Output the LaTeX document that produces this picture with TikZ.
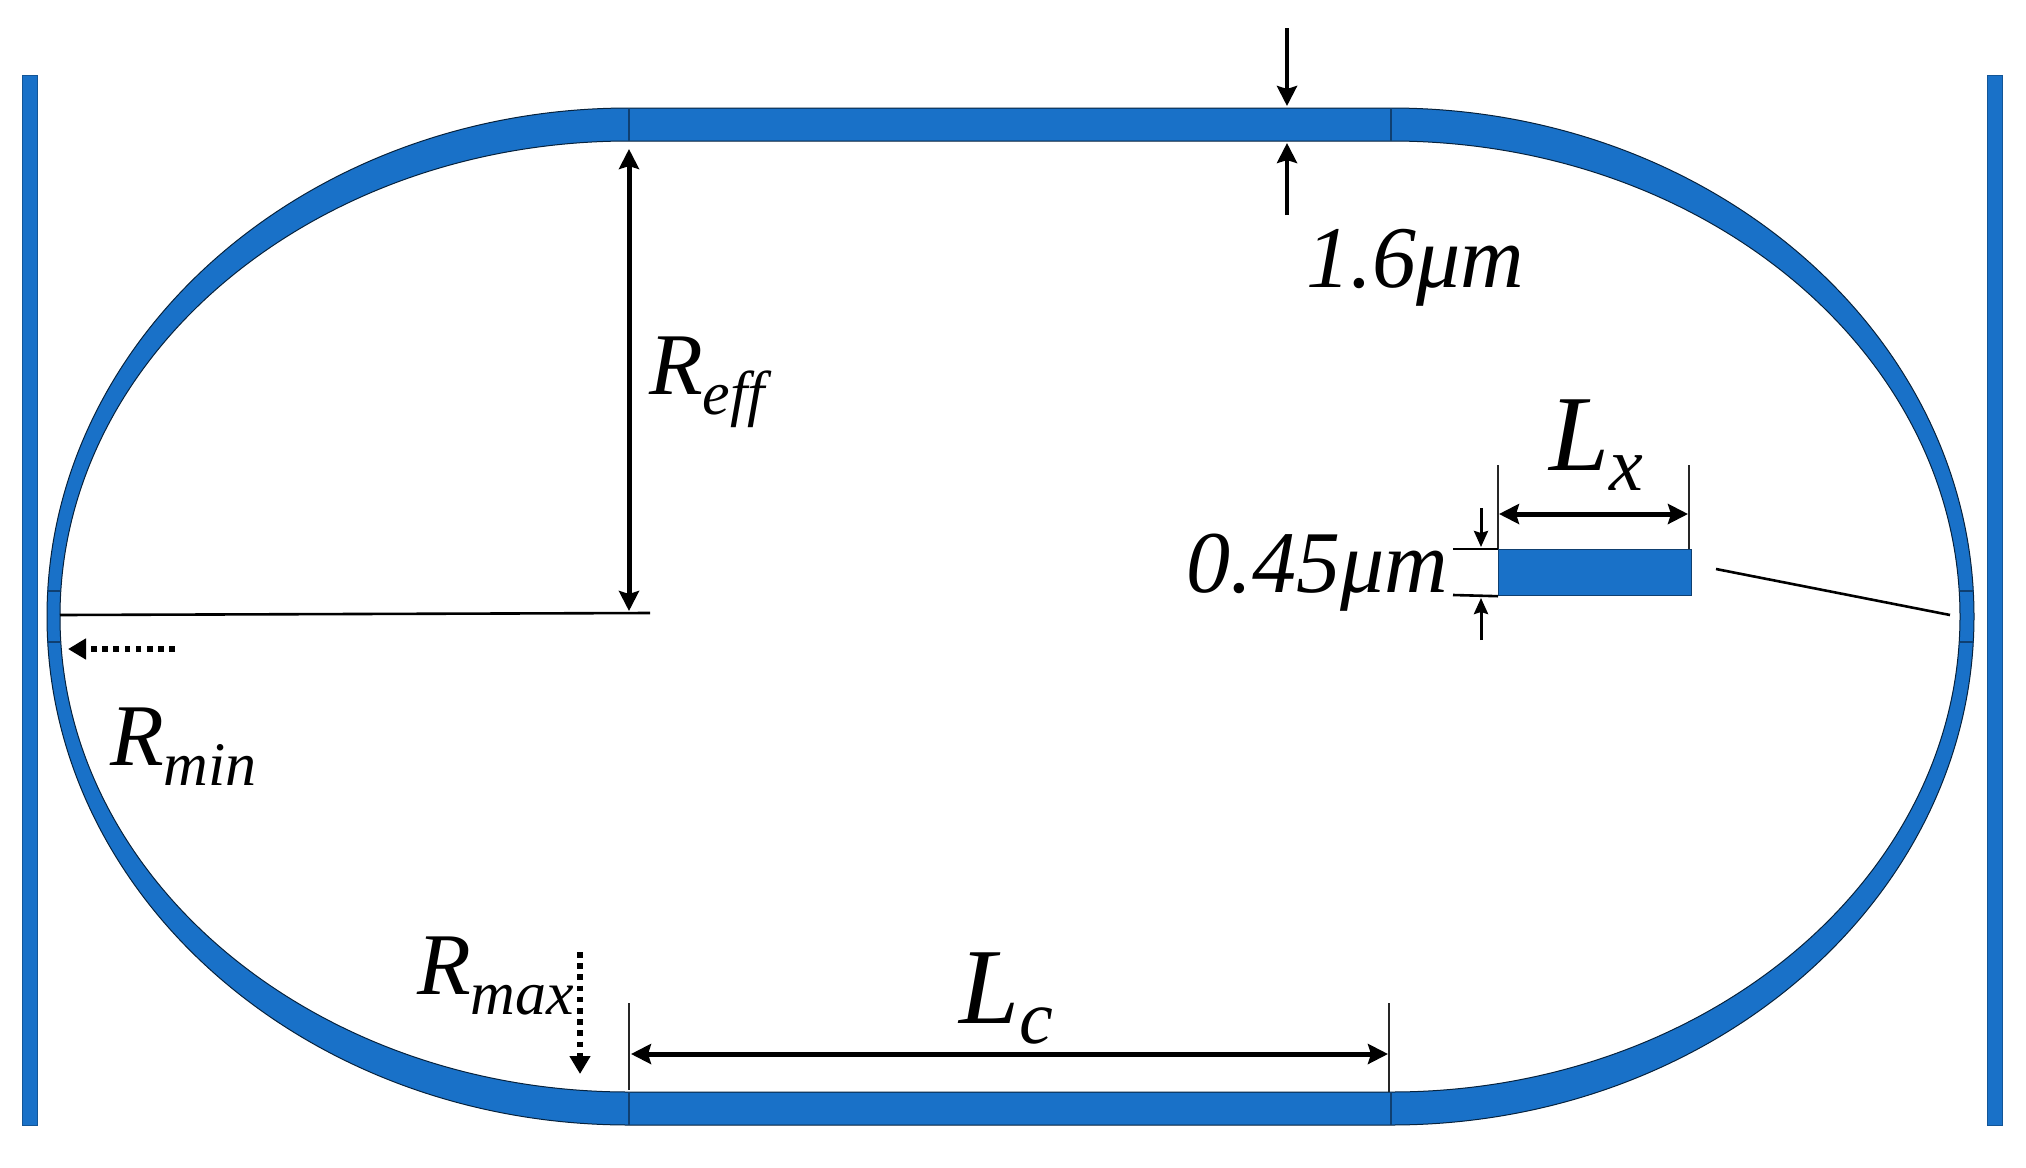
\documentclass[tikz,border=0pt]{standalone}
\usepackage{fontspec}
\setmainfont{Liberation Serif}
\usetikzlibrary{arrows.meta}
\definecolor{ringblue}{HTML}{1971C8}
\definecolor{edgeblue}{HTML}{0F3F70}
\newcommand{\RS}[5]{{\fontsize{#1}{#1}\selectfont\itshape #2\raisebox{-#3pt}{\fontsize{#4}{#4}\selectfont\itshape #5}}}
\tikzset{
 wg/.style={fill=ringblue,draw=black!70!ringblue,line width=0.5pt},
 bus/.style={fill=ringblue,draw=black!25!ringblue,line width=0.5pt},
 seam/.style={draw=edgeblue,line width=0.8pt},
 dim/.style={draw=black,line width=1.3pt},
 ext/.style={draw=black!85,line width=1pt},
 bigdbl/.style={draw=black,line width=2.5pt,{Stealth[length=10pt,width=10pt,inset=1.5pt]}-{Stealth[length=10pt,width=10pt,inset=1.5pt]}},
 bigone/.style={draw=black,line width=2.3pt,-{Stealth[length=10pt,width=10pt,inset=1.5pt]}},
 smallone/.style={draw=black,line width=1.5pt,-{Stealth[length=8pt,width=7pt,inset=1pt]}},
 dotarrow/.style={draw=black,line width=2.8pt,dash pattern=on 2.8pt off 2.8pt,-{Stealth[length=9pt,width=10pt,inset=0pt]}},
 lbl/.style={anchor=base west,inner sep=0pt,outer sep=0pt},
}
\begin{document}
\begin{tikzpicture}[x=0.5pt,y=-0.5pt]
\useasboundingbox (0,0) rectangle (2026,1168);
\def\k{0.5523}
% bus waveguides
\path[bus] (22,75) rectangle (37,1125);
\path[bus] (1987,75) rectangle (2002,1125);
% ring
\path[wg,even odd rule]
 (629,108) -- (1391,108)
 .. controls ({1391+583*\k},108) and (1974,{616.5-508.5*\k}) .. (1974,616.5)
 .. controls (1974,{616.5+508.5*\k}) and ({1391+583*\k},1125) .. (1391,1125)
 -- (629,1125)
 .. controls ({629-582*\k},1125) and (47,{616.5+508.5*\k}) .. (47,616.5)
 .. controls (47,{616.5-508.5*\k}) and ({629-582*\k},108) .. (629,108) -- cycle
 (629,141) -- (1391,141)
 .. controls ({1391+569*\k},141) and (1960,{616.5-475.5*\k}) .. (1960,616.5)
 .. controls (1960,{616.5+475.5*\k}) and ({1391+569*\k},1092) .. (1391,1092)
 -- (629,1092)
 .. controls ({629-569*\k},1092) and (60,{616.5+475.5*\k}) .. (60,616.5)
 .. controls (60,{616.5-475.5*\k}) and ({629-569*\k},141) .. (629,141) -- cycle;
% seams
\draw[seam] (629,108) -- (629,141);
\draw[seam] (1391,108) -- (1391,141);
\draw[seam] (629,1092) -- (629,1125);
\draw[seam] (1391,1092) -- (1391,1125);
\draw[seam] (47,591) -- (60,591);
\draw[seam] (47,642) -- (60,642);
\draw[seam] (1960,591) -- (1974,591);
\draw[seam] (1960,642) -- (1974,642);
% cross section
\node[wg,draw=edgeblue,line width=0.6pt,minimum width=96.5pt,minimum height=23pt,inner sep=0pt,anchor=north west] (sec) at (1498,549) {};
% named ends
\coordinate (a1) at (629,149); \coordinate (a2) at (629,611);
\coordinate (b1) at (60,615); \coordinate (b2) at (650,613);
\coordinate (c1) at (1287,28); \coordinate (c2) at (1287,106);
\coordinate (c3) at (1287,215); \coordinate (c4) at (1287,143);
\coordinate (d1) at (175,649); \coordinate (d2) at (68,649);
\coordinate (e1) at (580,952); \coordinate (e2) at (580,1074);
\coordinate (f1) at (631,1054); \coordinate (f2) at (1388,1054);
\coordinate (f3) at (629,1003); \coordinate (f4) at (629,1090);
\coordinate (f5) at (1389,1003); \coordinate (f6) at (1389,1092);
\coordinate (g1) at (1499,514); \coordinate (g2) at (1688,514);
\coordinate (g3) at (1498,465); \coordinate (g5) at (1689,465);
\coordinate (g6) at (1689,549);
\coordinate (h1) at (1453,549); \coordinate (h2) at (1453,595);
\coordinate (i1) at (1481,508); \coordinate (i2) at (1481,547);
\coordinate (i3) at (1481,640); \coordinate (i4) at (1481,598);
\coordinate (j1) at (1716,569); \coordinate (j2) at (1950,615);
% connectors
\draw[bigdbl] (a1) -- (a2);
\draw[dim] (b1) -- (b2);
\draw[bigone] (c1) -- (c2);
\draw[bigone] (c3) -- (c4);
\draw[dotarrow] (d1) -- (d2);
\draw[dotarrow] (e1) -- (e2);
\draw[bigdbl] (f1) -- (f2);
\draw[ext] (f3) -- (f4);
\draw[ext] (f5) -- (f6);
\draw[bigdbl] (g1) -- (g2);
\draw[ext] (g3) -- (sec.north west);
\draw[ext] (g5) -- (g6);
\draw[dim] (h1) -- (sec.north west);
\draw[dim] (h2) -- (sec.south west);
\draw[smallone] (i1) -- (i2);
\draw[smallone] (i3) -- (i4);
\draw[dim] (j1) -- (j2);
% labels
\node[lbl] (reff) at (649,394) {\RS{44}{R}{10}{31}{eff}};
\node[lbl] (rmin) at (110,765) {\RS{44}{R}{10}{31}{min}};
\node[lbl] (rmax) at (417,994) {\RS{44}{R}{10}{31}{max}};
\node[lbl] (lc) at (959,1023) {\RS{54}{L}{10}{38}{c}};
\node[lbl] (lx) at (1549,470) {\RS{54}{L}{10}{38}{x}};
\node[lbl] (w) at (1306,287) {\fontsize{44}{44}\selectfont\itshape 1.6μm};
\node[lbl] (h) at (1186,592) {\fontsize{44}{44}\selectfont\itshape 0.45μm};
\end{tikzpicture}
\end{document}
